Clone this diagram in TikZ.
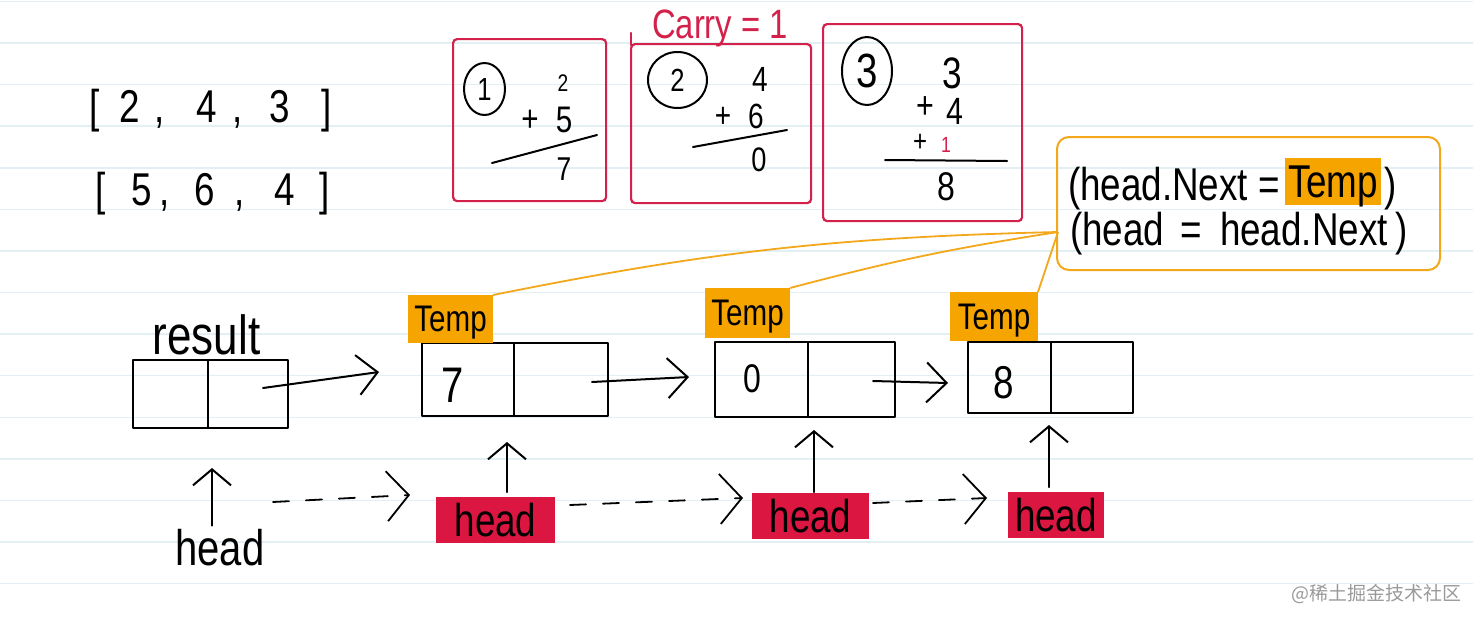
\documentclass[tikz,border=0pt]{standalone}
\usepackage{fontspec}
\setmainfont{Liberation Sans}[FakeStretch=0.8]
\newfontfamily\cjkfont{Noto Sans CJK SC}
\usetikzlibrary{arrows.meta,shapes.geometric,calc}
\definecolor{boxred}{HTML}{D3214B}
\definecolor{headred}{HTML}{DA1641}
\definecolor{tempor}{HTML}{F6A400}
\definecolor{lineor}{HTML}{F3A81C}
\definecolor{rulecol}{HTML}{E2F0F3}
\definecolor{wmgray}{HTML}{9A9A9A}
\newcommand\fsz[1]{\fontsize{#1}{#1}\selectfont}
\begin{document}
\begin{tikzpicture}[x=1pt,y=-1pt,
  rule/.style={draw=rulecol,line width=1.5pt},
  pen/.style={draw=black,line width=2pt,line cap=round,line join=round},
  calcbox/.style={draw=boxred,line width=2.2pt,rounded corners=4pt,inner sep=0pt,anchor=north west},
  listbox/.style={pen,inner sep=0pt,outer sep=0pt},
  txt/.style={inner sep=0pt,outer sep=0pt,text=black},
  circnum/.style={ellipse,pen,inner sep=0pt,outer sep=0pt},
  tempbox/.style={fill=tempor,inner sep=0pt,outer sep=0pt,minimum width=85pt,minimum height=48pt,font=\fsz{37},text depth=0pt},
  headbox/.style={fill=headred,inner sep=0pt,outer sep=0pt,minimum height=46pt,font=\fsz{46},text depth=0pt},
  solidarrow/.style={pen,-{Straight Barb[length=20pt,width=40pt]}},
  uparrow/.style={pen,-{Straight Barb[length=16pt,width=38pt]}},
  dasharrow/.style={draw=black,line width=1.8pt,line cap=round,dash pattern=on 16pt off 17pt,-{Straight Barb[length=22pt,width=50pt]}},
  orline/.style={draw=lineor,line width=1.8pt}
]
\useasboundingbox (0,0) rectangle (1473,622);
\fill[white] (0,0) rectangle (1473,622);
\foreach \i in {0,...,14} \draw[rule] (0,{1.5+41.58*\i}) -- (1473,{1.5+41.58*\i});

% ---- input arrays
\foreach \g/\x [count=\i] in {{[}/95,2/130,{,}/160,4/207,{,}/238,3/280,{]}/327}
  \node[txt,anchor=base,font=\fsz{46}] (ra-\i) at (\x,122) {\g};
\foreach \g/\x [count=\i] in {{[}/101,5/142,{,}/165,6/205,{,}/240,4/285,{]}/325}
  \node[txt,anchor=base,font=\fsz{46}] (rb-\i) at (\x,205) {\g};

% ---- calculation boxes
\node[calcbox,minimum width=153pt,minimum height=162pt] (c1) at (452,38) {};
\node[calcbox,minimum width=180pt,minimum height=159pt] (c2) at (630,43) {};
\node[calcbox,minimum width=199pt,minimum height=197pt] (c3) at (822,23) {};
\draw[draw=boxred,line width=2.2pt,line cap=round] (631,33) -- (631,45);
\node[txt,text=boxred,font=\fsz{41}] (carry) at (720,28) {Carry = 1};

% box 1
\node[circnum,minimum width=41pt,minimum height=52pt,font=\fsz{32}] (k1) at (484.5,89) {1};
\node[txt,font=\fsz{24}] (c1a) at (563,83) {2};
\node[txt,font=\fsz{37}] (c1p) at (530,121) {+};
\node[txt,font=\fsz{37}] (c1b) at (564,120) {5};
\draw[pen] (492,163) -- (597,135);
\node[txt,font=\fsz{33}] (c1r) at (564,169) {7};

% box 2
\node[circnum,minimum width=59pt,minimum height=56pt,font=\fsz{32}] (k2) at (677.5,80) {2};
\node[txt,font=\fsz{35}] (c2a) at (760,79) {4};
\node[txt,font=\fsz{35}] (c2p) at (723,117) {+};
\node[txt,font=\fsz{35}] (c2b) at (756,116) {6};
\draw[pen] (693,147) -- (787,130);
\node[txt,font=\fsz{34}] (c2r) at (759,160) {0};

% box 3
\node[circnum,minimum width=50pt,minimum height=68pt,font=\fsz{48}] (k3) at (867,71) {3};
\node[txt,font=\fsz{44}] (c3a) at (952,73) {3};
\node[txt,font=\fsz{38}] (c3p) at (925,108) {+};
\node[txt,font=\fsz{38}] (c3b) at (955,111) {4};
\node[txt,font=\fsz{30}] (c3q) at (920,143) {+};
\node[txt,text=boxred,font=\fsz{22}] (c3c) at (946,145) {1};
\draw[pen] (885,160) -- (1007,161);
\node[txt,font=\fsz{40}] (c3r) at (946,187) {8};

% ---- note box
\node[draw=lineor,line width=2pt,rounded corners=12pt,minimum width=383pt,minimum height=133pt,inner sep=0pt] (note) at (1248.5,203.5) {};
\node[txt,anchor=base west,font=\fsz{46}] (l1a) at (1068,200) {(head.Next =};
\node[fill=tempor,inner sep=0pt,minimum width=96pt,minimum height=47pt,text depth=0pt,font=\fsz{46}] (l1t) at (1333,181.5) {Temp};
\node[txt,anchor=base west,font=\fsz{46}] (l1b) at (1384,200) {)};
\node[txt,anchor=base west,font=\fsz{46}] (l2) at (1070,245) {(head\hspace{6pt} = \hspace{8pt}head.Next\hspace{8pt})};
\coordinate (conv) at (1058,232);

% ---- list nodes
\node[listbox,minimum width=155pt,minimum height=68pt] (res) at (210.5,394) {};
\node[listbox,minimum width=186pt,minimum height=73pt] (n1) at (515,379.5) {};
\node[listbox,minimum width=180pt,minimum height=75pt] (n2) at (805,379.5) {};
\node[listbox,minimum width=165pt,minimum height=71pt] (n3) at (1050.5,377.5) {};
\draw[pen] ([xshift=-2.5pt]res.north) -- ([xshift=-2.5pt]res.south);
\draw[pen] ([xshift=-1pt]n1.north) -- ([xshift=-1pt]n1.south);
\draw[pen] ([xshift=3pt]n2.north) -- ([xshift=3pt]n2.south);
\draw[pen] ([xshift=0.5pt]n3.north) -- ([xshift=0.5pt]n3.south);
\node[txt,font=\fsz{55}] (reslbl) at (206.5,335) {result};
\node[txt,font=\fsz{50}] (v1) at (453,385) {7};
\node[txt,font=\fsz{40}] (v2) at (752,379) {0};
\node[txt,font=\fsz{46}] (v3) at (1004,383) {8};

% Temp labels
\node[tempbox] (t1) at (450.5,319) {Temp};
\node[tempbox,minimum height=50pt] (t2) at (747.5,313) {Temp};
\node[tempbox,minimum width=88pt,minimum height=49pt] (t3) at (994,316.5) {Temp};
\draw[orline] (t1.north east) to[bend left=5] (conv);
\draw[orline] (t2.north east) to[bend left=3] (conv);
\draw[orline] (t3.north east) -- (conv);

% head labels
\node[txt,font=\fsz{50}] (hd0) at (220,548) {head};
\node[headbox,minimum width=119pt] (h1) at (495.5,520) {head};
\node[headbox,minimum width=117pt] (h2) at (810.5,516) {head};
\node[headbox,minimum width=96pt] (h3) at (1056,515) {head};

% solid next arrows
\coordinate (res-p) at (263,388);
\coordinate (n1-in) at (379,372);
\coordinate (n1-p) at (592,382);
\coordinate (n2-in) at (689,377);
\coordinate (n2-p) at (873,381);
\coordinate (n3-in) at (948,383);
\draw[solidarrow] (res-p) -- (n1-in);
\draw[solidarrow] (n1-p) -- (n2-in);
\draw[solidarrow] (n2-p) -- (n3-in);

% up arrows
\draw[uparrow] ([xshift=-8pt,yshift=4pt]hd0.north) -- ([xshift=1.5pt,yshift=-40pt]res.south);
\draw[uparrow] ([xshift=11.5pt,yshift=5pt]h1.north) -- ([xshift=-8pt,yshift=-26pt]n1.south);
\draw[uparrow] ([xshift=3.5pt,yshift=1pt]h2.north) -- ([xshift=9pt,yshift=-13pt]n2.south);
\draw[uparrow] ([xshift=-7pt,yshift=5pt]h3.north) -- ([xshift=-1.5pt,yshift=-12pt]n3.south);

% dashed head moves
\coordinate (d1s) at (273,502);
\coordinate (d1e) at (410,495);
\coordinate (d2s) at (570,505);
\coordinate (d2e) at (743,498);
\coordinate (d3s) at (873,503);
\coordinate (d3e) at (987,498);
\draw[dasharrow] (d1s) -- (d1e);
\draw[dasharrow] (d2s) -- (d2e);
\draw[dasharrow] (d3s) -- (d3e);

% watermark
\node[inner sep=0pt,text=wmgray,font=\cjkfont\fsz{19}] (wm) at (1376,594) {@稀土掘金技术社区};
\end{tikzpicture}
\end{document}
